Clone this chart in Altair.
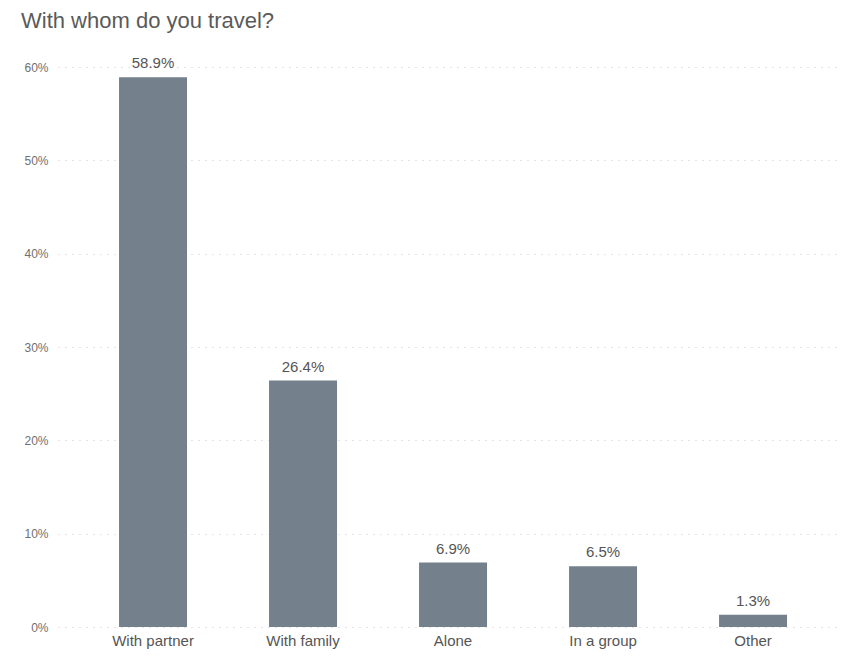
import altair as alt
import pandas as pd

categories = ["With partner", "With family", "Alone", "In a group", "Other"]
values = [58.9, 26.4, 6.9, 6.5, 1.3]
labels = ["58.9%", "26.4%", "6.9%", "6.5%", "1.3%"]
y_ticks = [0, 10, 20, 30, 40, 50, 60]

df = pd.DataFrame({"category": categories, "value": values, "label": labels})

FONT = "Liberation Sans"
BAR = "#74818d"

x = alt.X(
    "category:N",
    sort=categories,
    scale=alt.Scale(paddingInner=0.5467, paddingOuter=0.3733, align=0.545),
    axis=alt.Axis(
        title=None, labelAngle=0, ticks=False, domain=False,
        labelFontSize=15, labelColor="#555555", labelFont=FONT, labelPadding=6,
    ),
)
y = alt.Y(
    "value:Q",
    scale=alt.Scale(domain=[0, 60], nice=False),
    axis=alt.Axis(
        title=None, values=y_ticks, labelExpr="datum.value + '%'",
        ticks=False, domain=False, labelFontSize=12, labelColor="#707070",
        labelFont=FONT, labelPadding=10,
        grid=True, gridColor="#c8c8c8", gridDash=[1, 6], gridWidth=1,
    ),
)

bars = alt.Chart(df).mark_bar(color=BAR).encode(x=x, y=y)
text = alt.Chart(df).mark_text(
    baseline="bottom", dy=-6, fontSize=15, color="#555555", font=FONT
).encode(x=x, y=y, text="label:N")

chart = (
    (bars + text)
    .properties(
        width=780,
        height=560,
        autosize=alt.AutoSizeParams(type="none"),
        padding={"left": 50, "top": 59, "right": 0, "bottom": 30},
        title=alt.TitleParams(
            "With whom do you travel?", anchor="start", fontSize=22,
            font=FONT, fontWeight="normal", color="#5a5a5a", dx=-3, offset=23,
        ),
    )
    .configure_view(stroke=None)
)

chart.save("out.html", embed_options={"renderer": "svg", "actions": False})
